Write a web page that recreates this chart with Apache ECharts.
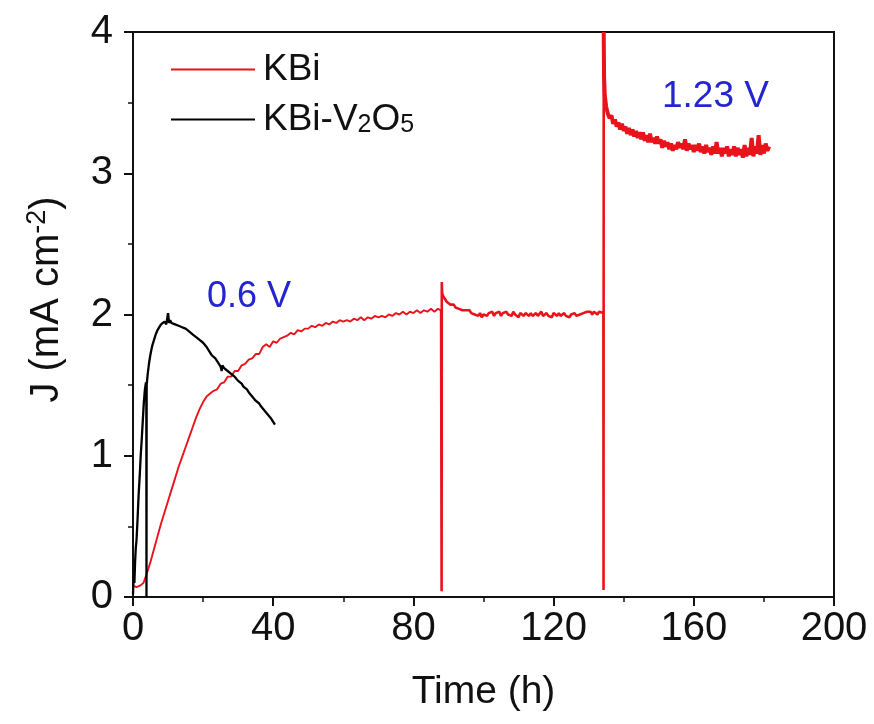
<!DOCTYPE html>
<html><head><meta charset="utf-8">
<script src="https://cdn.jsdelivr.net/npm/echarts@6/dist/echarts.min.js"></script>
<style>html,body{margin:0;padding:0;background:#fff}#c{width:874px;height:724px}</style>
</head><body><div id="c"></div>
<script>
var xTicks = [0, 40, 80, 120, 160, 200];
var yTicks = [0, 1, 2, 3, 4];
var seriesNames = ['KBi', 'KBi-V2O5'];
var annotations = ['0.6 V', '1.23 V'];

// KBi at 0.6 V (0-88 h)
var kbiPart1 = [
 [0,0.08],[1,0.07],[2,0.08],[3,0.10],[4,0.17],[5,0.25],[6,0.34],[7,0.43],[8,0.52],[9,0.60],
 [10,0.68],[11,0.76],[12,0.84],[13,0.92],[14,0.99],[15,1.06],[16,1.13],[17,1.20],[18,1.27],[19,1.33],
 [20,1.38],[21,1.42],[22,1.44],[23,1.46],[24,1.47],[25,1.51],[26,1.52],[27,1.56],[28,1.56],[29,1.60],
 [30,1.60],[31,1.64],[32,1.65],[33,1.68],[34,1.69],[35,1.72],[36,1.72],[37,1.77],[38,1.79],[39,1.77],
 [40,1.81],[41,1.80],[42,1.83],[43,1.84],[44,1.85],[45,1.87],[46,1.86],[47,1.89],[48,1.88],[49,1.90],
 [50,1.90],[51,1.92],[52,1.91],[53,1.93],[54,1.92],[55,1.94],[56,1.93],[57,1.95],[58,1.94],[59,1.96],
 [60,1.95],[61,1.96],[62,1.95],[63,1.97],[64,1.96],[65,1.98],[66,1.96],[67,1.98],[68,1.97],[69,1.99],
 [70,1.98],[71,1.99],[72,1.98],[73,2.00],[74,1.99],[75,2.01],[76,2.00],[77,2.02],[78,2.00],[79,2.02],
 [80,2.01],[81,2.03],[82,2.01],[83,2.03],[84,2.02],[85,2.04],[86,2.02],[87,2.04],[87.9,2.03]
];
// KBi after interruption at 88 h, up to the switch to 1.23 V
var kbiPart2 = [
 [87.9,2.03],[88.05,0.04],[88.1,2.23],[88.2,2.15],[88.5,2.13],[89,2.11],[89.5,2.09],[90,2.08],[90.5,2.07],[91,2.06],[91.5,2.07],
 [92,2.05],[92.5,2.06],[93,2.04],[93.5,2.05],[94,2.03],[94.5,2.04],[95,2.03],[95.5,2.02],[96,2.03],[96.5,2.01],
 [97,2.02],[97.5,2.00],[98,2.01],[98.5,1.99],[99,2.01],[99.5,1.98],[100,2.00],[100.5,2.01],[101,1.99],[101.5,2.01],
 [102,2.00],[102.5,2.02],[103,1.99],[103.5,2.01],[104,2.00],[104.5,2.02],[105,1.99],[105.5,2.01],[106,2.00],[106.5,2.02],
 [107,2.00],[107.5,2.01],[108,1.99],[108.5,2.02],[109,2.00],[109.5,2.01],[110,1.98],[110.5,2.01],[111,2.00],[111.5,1.99],
 [112,2.01],[112.5,2.00],[113,1.99],[113.5,2.01],[114,1.99],[114.5,2.00],[115,2.01],[115.5,1.99],[116,2.00],[116.5,2.02],
 [117,1.99],[117.5,2.00],[118,2.01],[118.5,1.99],[119,2.00],[119.5,1.98],[120,2.01],[120.5,2.00],[121,1.99],[121.5,2.01],
 [122,1.99],[122.5,2.00],[123,2.01],[123.5,1.99],[124,2.00],[124.5,1.98],[125,2.00],[125.5,1.99],[126,2.01],[126.5,1.99],
 [127,1.98],[127.5,2.00],[128,1.99],[128.5,2.01],[129,2.00],[129.5,2.02],[130,2.01],[130.5,2.02],[131,2.00],[131.5,2.02],
 [132,2.01],[132.5,2.00],[133,2.02],[133.5,2.01],[134.2,2.01],[134.25,0.05],[134.3,4.0]
];
// KBi at 1.23 V (134-182 h)
var kbiPart3 = [
 [134.3,4.0],[134.4,3.68],[134.6,3.55],[135,3.47],[135.5,3.42],[136,3.39],[136.5,3.41],[137,3.35],[137.5,3.38],
 [138,3.33],[138.5,3.36],[139,3.31],[139.5,3.35],[140,3.30],[140.5,3.33],[141,3.28],[141.5,3.32],[142,3.27],[142.5,3.31],
 [143,3.26],[143.5,3.30],[144,3.25],[144.5,3.29],[145,3.24],[145.5,3.29],[146,3.23],[146.5,3.27],[147,3.22],[147.5,3.28],
 [148,3.22],[148.5,3.25],[149,3.21],[149.5,3.26],[150,3.21],[150.5,3.24],[151,3.18],[151.5,3.23],[152,3.19],[152.5,3.22],
 [153,3.17],[153.5,3.21],[154,3.16],[154.5,3.20],[155,3.17],[155.5,3.22],[156,3.18],[156.5,3.21],[157,3.17],[157.5,3.24],
 [158,3.16],[158.5,3.21],[159,3.17],[159.5,3.20],[160,3.15],[160.5,3.20],[161,3.16],[161.5,3.21],[162,3.15],[162.5,3.19],
 [163,3.14],[163.5,3.20],[164,3.15],[164.5,3.18],[165,3.13],[165.5,3.19],[166,3.14],[166.5,3.22],[167,3.14],[167.5,3.18],
 [168,3.12],[168.5,3.18],[169,3.14],[169.5,3.19],[170,3.12],[170.5,3.17],[171,3.13],[171.5,3.19],[172,3.12],[172.5,3.18],
 [173,3.13],[173.5,3.17],[174,3.11],[174.5,3.20],[175,3.12],[175.5,3.18],[176,3.13],[176.5,3.25],[177,3.12],[177.5,3.19],
 [178,3.14],[178.5,3.27],[179,3.13],[179.5,3.20],[180,3.14],[180.5,3.21],[181,3.16],[181.5,3.19]
];
// KBi-V2O5
var kbiV2O5 = [
 [0,0.02],[0.2,0.15],[0.4,0.10],[0.6,0.25],[0.8,0.35],[1.0,0.40],[1.3,0.55],[1.6,0.72],[1.9,0.85],[2.2,1.00],
 [2.5,1.12],[2.8,1.25],[3.1,1.38],[3.4,1.47],[3.7,1.52],[3.8,1.50],[3.85,0.00],[3.9,1.50],[4.2,1.58],[4.6,1.66],
 [5,1.72],[5.5,1.78],[6,1.82],[6.5,1.86],[7,1.89],[7.5,1.91],[8,1.93],[8.5,1.92],[9,1.95],[9.5,1.93],
 [10,2.01],[10.3,1.94],[10.6,1.96],[11,1.94],[11.5,1.95],[12,1.93],[12.5,1.94],[13,1.92],[13.5,1.93],[14,1.91],
 [14.5,1.92],[15,1.90],[15.5,1.90],[16,1.88],[16.5,1.88],[17,1.86],[17.5,1.85],[18,1.84],[18.5,1.85],[19,1.82],
 [19.5,1.83],[20,1.80],[20.5,1.79],[21,1.77],[21.5,1.76],[22,1.73],[22.5,1.71],[23,1.70],[23.5,1.69],[24,1.67],
 [24.5,1.65],[25,1.63],[25.3,1.60],[25.5,1.64],[26,1.62],[26.5,1.61],[27,1.60],[27.5,1.59],[28,1.58],[28.5,1.57],
 [29,1.56],[29.5,1.55],[30,1.53],[30.5,1.52],[31,1.51],[31.5,1.49],[32,1.48],[32.5,1.47],[33,1.45],[33.5,1.44],
 [34,1.42],[34.5,1.41],[35,1.39],[35.5,1.38],[36,1.37],[36.5,1.35],[37,1.34],[37.5,1.32],[38,1.31],[38.5,1.29],
 [39,1.28],[39.5,1.26],[40,1.25],[40.5,1.22]
];

var FONT = 'Liberation Sans, Arial, sans-serif';
var RED = '#e8131b', BLUE = '#2424d0', INK = '#111';

var chart = echarts.init(document.getElementById('c'), null, {renderer: 'canvas'});
chart.setOption({
  animation: false,
  backgroundColor: '#fff',
  grid: {left: 133, right: 40, top: 32, bottom: 127, show: true, borderColor: INK, borderWidth: 2, backgroundColor: 'transparent'},
  legend: {
    data: [{name: seriesNames[0]}, {name: seriesNames[1]}], orient: 'vertical', left: 166, top: 46,
    icon: 'rect', itemWidth: 84, itemHeight: 2, itemGap: 9,
    formatter: function (n) { return n === 'KBi-V2O5' ? '{a|KBi-V}{s|2}{a|O}{s|5}' : '{a|' + n + '}'; },
    textStyle: {fontFamily: FONT, fontSize: 37, color: INK, padding: [0,0,0,3],
      rich: {a: {fontFamily: FONT, fontSize: 37, lineHeight: 37, color: INK},
             s: {fontFamily: FONT, fontSize: 25, lineHeight: 37, color: INK, verticalAlign: 'bottom', padding: [16,0,0,0]}}}
  },
  xAxis: {
    type: 'value', min: 0, max: 200, interval: 40,
    name: 'Time (h)', nameLocation: 'middle', nameGap: 76,
    nameTextStyle: {fontFamily: FONT, fontSize: 39, color: INK},
    axisLine: {onZero: false, lineStyle: {color: INK, width: 2}},
    axisTick: {show: true, inside: false, length: 9, lineStyle: {color: INK, width: 2}},
    minorTick: {show: true, splitNumber: 2, length: 5, lineStyle: {color: INK, width: 1.5}},
    axisLabel: {fontFamily: FONT, fontSize: 40, color: INK, margin: 12},
    splitLine: {show: false}
  },
  yAxis: {
    type: 'value', min: 0, max: 4, interval: 1,
    name: '{a|J (mA cm}{s|-2}{a|)}', nameLocation: 'middle', nameGap: 64, nameRotate: 90,
    nameTextStyle: {fontFamily: FONT, fontSize: 40, color: INK, padding: [0,0,0,30],
      rich: {a: {fontFamily: FONT, fontSize: 40, color: INK}, s: {fontFamily: FONT, fontSize: 27, color: INK, verticalAlign: 'top', padding: [0,0,18,0]}}},
    axisLine: {onZero: false, lineStyle: {color: INK, width: 2}},
    axisTick: {show: true, inside: false, length: 9, lineStyle: {color: INK, width: 2}},
    minorTick: {show: true, splitNumber: 2, length: 5, lineStyle: {color: INK, width: 1.5}},
    axisLabel: {fontFamily: FONT, fontSize: 40, color: INK, margin: 20},
    splitLine: {show: false}
  },
  series: [
    {name: 'KBi', type: 'line', data: kbiPart1, symbol: 'none', clip: true,
     lineStyle: {color: RED, width: 1.9}, itemStyle: {color: RED}, z: 2},
    {name: 'KBi', type: 'line', data: kbiPart2, symbol: 'none', clip: true,
     lineStyle: {color: RED, width: 2.6}, itemStyle: {color: RED}, z: 2},
    {name: 'KBi', type: 'line', data: kbiPart3, symbol: 'none', clip: true,
     lineStyle: {color: RED, width: 4}, itemStyle: {color: RED}, z: 2},
    {name: 'KBi-V2O5', type: 'line', data: kbiV2O5, symbol: 'none', clip: true,
     lineStyle: {color: '#000', width: 2.3}, itemStyle: {color: '#000'}, z: 3}
  ],
  graphic: [
    {type: 'text', left: 207, top: 279, style: {text: annotations[0], fontFamily: FONT, fontSize: 36, fill: BLUE}},
    {type: 'text', left: 662, top: 78, style: {text: annotations[1], fontFamily: FONT, fontSize: 37, fill: BLUE}}
  ]
});
</script></body></html>
